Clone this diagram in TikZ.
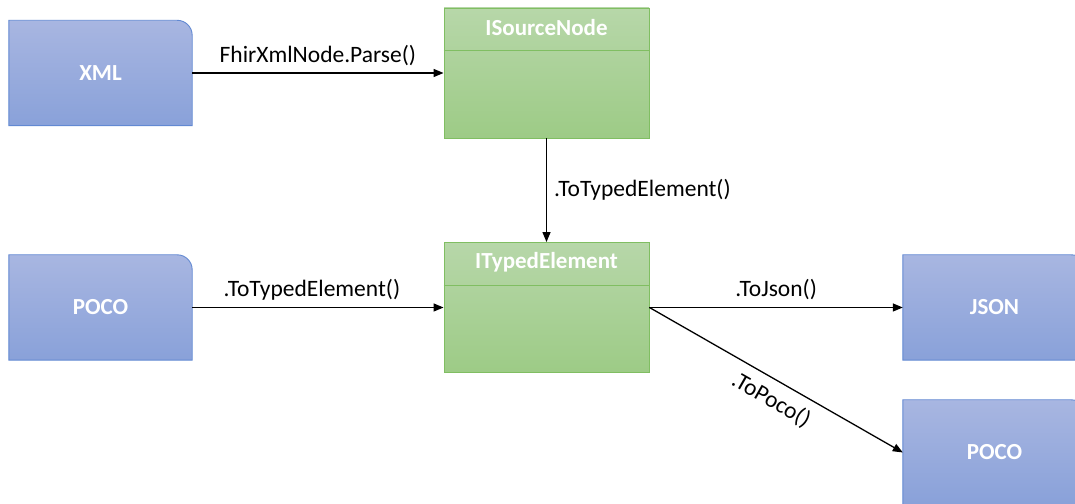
\documentclass[tikz,border=0pt]{standalone}
\usepackage{fontspec}
\setmainfont{Carlito}
\usetikzlibrary{arrows.meta,backgrounds}

\definecolor{datatop}{RGB}{168,182,225}
\definecolor{databot}{RGB}{137,161,217}
\definecolor{dataline}{RGB}{98,137,210}
\definecolor{ifacetop}{RGB}{183,215,169}
\definecolor{ifacebot}{RGB}{157,203,134}
\definecolor{ifaceline}{RGB}{128,190,98}

\tikzset{
  datanode/.style={minimum width=183pt,minimum height=105pt,inner sep=0pt,
    text=white,font=\bfseries\fontsize{23}{27}\selectfont},
  ifacenode/.style={draw=ifaceline,line width=0.9pt,top color=ifacetop,
    bottom color=ifacebot,minimum width=205pt,minimum height=130pt,inner sep=0pt},
  ifacetitle/.style={text=white,font=\bfseries\fontsize{23}{27}\selectfont},
  conv/.style={-{Triangle[length=10pt,width=8pt]},line width=1.3pt},
  lbl/.style={font=\fontsize{23.5}{28}\selectfont,text=black,inner sep=2pt},
}

\begin{document}
\begin{tikzpicture}[x=1pt,y=1pt]
  \path[use as bounding box,clip] (0,0) rectangle (1075,503);

  % data formats on the outside
  \node[datanode] (xml)     at (100.5,430)   {XML};
  \node[datanode] (poco)    at (100.5,195.5) {POCO};
  \node[datanode] (json)    at (994.5,195.5) {JSON};
  \node[datanode] (pocoout) at (994.5,50.5)  {POCO};

  % interfaces in the middle
  \node[ifacenode] (isrc) at (546.5,430)   {};
  \node[ifacenode] (ityp) at (546.5,195.5) {};
  \foreach \n/\t in {isrc/ISourceNode,ityp/ITypedElement} {
    \node[ifacetitle] (\n title) at ([yshift=-20]\n.north) {\t};
    \draw[ifaceline,line width=0.9pt] ([yshift=-43]\n.north west) -- ([yshift=-43]\n.north east);
  }

  % blue boxes, one corner rounded
  \begin{pgfonlayer}{background}
    \foreach \n in {xml,poco,json,pocoout} {
      \shade[top color=datatop,bottom color=databot,draw=dataline,line width=0.9pt]
        (\n.south west) -- (\n.north west) -- ([xshift=-15]\n.north east)
        arc[start angle=90,end angle=0,radius=15] -- (\n.south east) -- cycle;
    }
  \end{pgfonlayer}

  % conversions
  \draw[conv] (xml) -- (isrc) node[lbl,midway,above=5pt] {FhirXmlNode.Parse()};
  \draw[conv] (isrc) -- (ityp) node[lbl,midway,right=5pt] {.ToTypedElement()};
  \draw[conv] (poco) -- (ityp) node[lbl,midway,above=5pt,xshift=-6pt] {.ToTypedElement()};
  \draw[conv] (ityp) -- (json) node[lbl,midway,above=5pt] {.ToJson()};
  \draw[conv] (ityp.east) -- (pocoout.west) node[lbl,pos=0.52,sloped,below=7pt] {.ToPoco()};
\end{tikzpicture}
\end{document}
